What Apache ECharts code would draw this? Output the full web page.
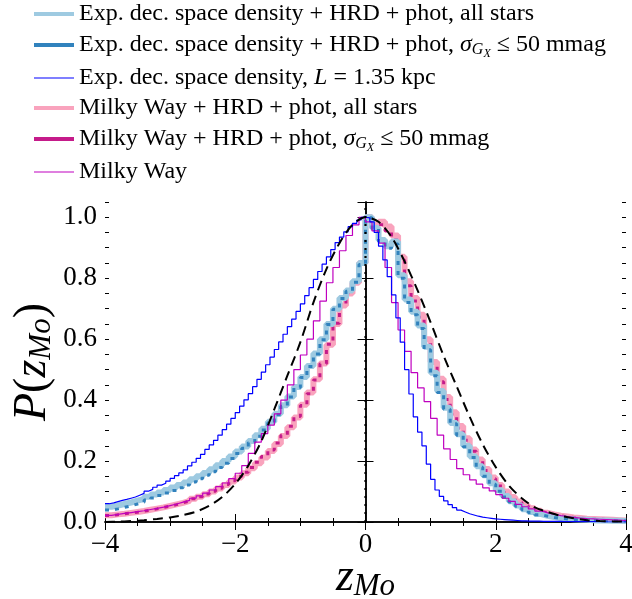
<!DOCTYPE html>
<html><head><meta charset="utf-8">
<script src="https://cdn.jsdelivr.net/npm/echarts@6/dist/echarts.min.js"></script>
<style>html,body{margin:0;padding:0;background:#fff}#c{width:632px;height:599px}</style>
</head><body><div id="c"></div>
<script>
// ---------- data ----------
const xTickValues = [-4, -2, 0, 2, 4];
const yTickValues = [0.0, 0.2, 0.4, 0.6, 0.8, 1.0];
const thickStart = -4, thickBin = 0.1;      // 80 bins
const thinBlueStart = -4, thinBlueBin = 8 / 120; // 120 bins
const mwThinStart = -4, mwThinBin = 0.1;     // 80 bins

const expAll = [0.050,0.054,0.059,0.064,0.070,0.076,0.083,0.090,0.097,0.105,
 0.113,0.121,0.130,0.140,0.150,0.161,0.173,0.186,0.200,0.215,
 0.231,0.248,0.266,0.285,0.306,0.329,0.355,0.383,0.412,0.443,
 0.476,0.512,0.553,0.600,0.650,0.700,0.735,0.760,0.790,0.850,
 1.000,0.965,0.925,0.905,0.920,0.810,0.730,0.690,0.645,0.575,
 0.490,0.430,0.375,0.325,0.288,0.250,0.215,0.183,0.153,0.127,
 0.104,0.085,0.068,0.054,0.042,0.033,0.026,0.020,0.016,0.013,
 0.011,0.009,0.008,0.007,0.006,0.005,0.005,0.004,0.004,0.003];

const expSel = [0.039,0.043,0.048,0.053,0.059,0.065,0.072,0.079,0.087,0.095,
 0.103,0.112,0.121,0.131,0.142,0.153,0.165,0.179,0.193,0.208,
 0.225,0.242,0.261,0.281,0.302,0.326,0.352,0.380,0.410,0.441,
 0.474,0.510,0.551,0.598,0.648,0.698,0.733,0.757,0.787,0.845,
 0.998,0.962,0.920,0.898,0.912,0.800,0.720,0.680,0.635,0.565,
 0.480,0.425,0.370,0.322,0.285,0.247,0.212,0.180,0.150,0.124,
 0.101,0.082,0.066,0.052,0.040,0.031,0.024,0.019,0.015,0.012,
 0.010,0.008,0.007,0.006,0.005,0.005,0.004,0.004,0.003,0.003];

const expDens = [0.060,0.063,0.067,0.071,0.074,0.078,0.082,0.088,0.094,0.101,
 0.107,0.114,0.121,0.127,0.134,0.143,0.152,0.161,0.171,0.184,
 0.196,0.209,0.222,0.238,0.253,0.268,0.285,0.303,0.321,0.340,
 0.359,0.380,0.401,0.421,0.444,0.468,0.492,0.516,0.541,0.566,
 0.591,0.616,0.641,0.666,0.691,0.716,0.743,0.769,0.796,0.822,
 0.846,0.870,0.894,0.917,0.935,0.952,0.969,0.980,0.991,1.000,
 0.998,0.985,0.950,0.905,0.860,0.805,0.745,0.670,0.590,0.500,
 0.420,0.345,0.295,0.250,0.190,0.140,0.105,0.084,0.069,0.057,
 0.047,0.039,0.033,0.027,0.023,0.019,0.016,0.014,0.012,0.010,
 0.009,0.008,0.007,0.006,0.005,0.004,0.004,0.003,0.003,0.003,
 0.002,0.002,0.002,0.002,0.002,0.001,0.001,0.001,0.001,0.001,
 0.001,0.001,0.001,0.001,0.000,0.000,0.000,0.000,0.000,0.000];

const mwAll = [0.022,0.025,0.027,0.030,0.033,0.036,0.040,0.044,0.048,0.053,
 0.058,0.063,0.069,0.076,0.083,0.091,0.100,0.110,0.121,0.133,
 0.146,0.160,0.176,0.193,0.212,0.233,0.256,0.282,0.311,0.343,
 0.385,0.425,0.468,0.520,0.582,0.650,0.710,0.750,0.785,0.850,
 1.000,0.975,0.985,0.970,0.940,0.870,0.790,0.735,0.680,0.600,
 0.525,0.470,0.410,0.360,0.315,0.275,0.238,0.205,0.174,0.146,
 0.121,0.100,0.082,0.067,0.055,0.045,0.037,0.030,0.025,0.021,
 0.018,0.015,0.013,0.011,0.010,0.009,0.008,0.007,0.006,0.005];

const mwSel = [0.021,0.024,0.027,0.029,0.032,0.036,0.039,0.043,0.048,0.052,
 0.057,0.063,0.069,0.076,0.083,0.092,0.101,0.111,0.123,0.135,
 0.149,0.163,0.179,0.196,0.215,0.236,0.259,0.285,0.314,0.346,
 0.382,0.421,0.466,0.519,0.583,0.652,0.712,0.752,0.787,0.852,
 0.995,0.965,0.975,0.955,0.925,0.860,0.775,0.725,0.672,0.592,
 0.515,0.460,0.402,0.352,0.308,0.268,0.232,0.200,0.169,0.142,
 0.118,0.097,0.080,0.065,0.053,0.043,0.035,0.029,0.024,0.020,
 0.017,0.015,0.013,0.011,0.010,0.009,0.008,0.007,0.006,0.005];

const mwOnly = [0.022,0.025,0.028,0.031,0.034,0.037,0.041,0.045,0.049,0.054,
 0.059,0.065,0.071,0.078,0.086,0.095,0.105,0.116,0.128,0.142,
 0.160,0.185,0.225,0.262,0.290,0.318,0.355,0.400,0.450,0.500,
 0.548,0.600,0.660,0.725,0.785,0.835,0.890,0.940,0.975,1.000,
 0.985,0.955,0.915,0.835,0.720,0.630,0.560,0.490,0.440,0.395,
 0.340,0.285,0.240,0.205,0.175,0.155,0.138,0.124,0.112,0.102,
 0.090,0.078,0.068,0.058,0.050,0.043,0.036,0.030,0.025,0.021,
 0.018,0.015,0.013,0.011,0.010,0.009,0.008,0.007,0.006,0.005];

const refX = [-4.0,-3.8,-3.6,-3.4,-3.2,-3.0,-2.8,-2.6,-2.4,-2.2,
 -2.0,-1.8,-1.6,-1.4,-1.2,-1.0,-0.8,-0.6,-0.4,-0.2,
 0.0,0.2,0.4,0.6,0.8,1.0,1.2,1.4,1.6,1.8,
 2.0,2.2,2.4,2.6,2.8,3.0,3.2,3.4,3.6,3.8,4.0];
const refY = [0.000,0.001,0.003,0.006,0.010,0.015,0.023,0.034,0.053,0.082,
 0.125,0.185,0.265,0.370,0.480,0.590,0.720,0.830,0.915,0.975,
 1.000,0.985,0.935,0.855,0.760,0.655,0.545,0.445,0.345,0.255,
 0.180,0.120,0.078,0.048,0.033,0.020,0.012,0.006,0.003,0.002,0.001];

const zeroLineX = 0;

const names = {
  expAll: 'Exp. dec. space density + HRD + phot, all stars',
  expSel: 'Exp. dec. space density + HRD + phot, sel',
  expDens: 'Exp. dec. space density, L',
  mwAll: 'Milky Way + HRD + phot, all stars',
  mwSel: 'Milky Way + HRD + phot, sel',
  mwOnly: 'Milky Way'
};
const legendText = {
  [names.expAll]: 'Exp. dec. space density + HRD + phot, all stars',
  [names.expSel]: 'Exp. dec. space density + HRD + phot, {i|σ}{s|G}{ss|X} ≤ 50 mmag',
  [names.expDens]: 'Exp. dec. space density, {i|L} = 1.35 kpc',
  [names.mwAll]: 'Milky Way + HRD + phot, all stars',
  [names.mwSel]: 'Milky Way + HRD + phot, {i|σ}{s|G}{ss|X} ≤ 50 mmag',
  [names.mwOnly]: 'Milky Way'
};

// ---------- helpers ----------
function hist(values, x0, w) {
  const d = values.map((v, i) => [x0 + i * w, v]);
  d.push([x0 + values.length * w, values[values.length - 1]]);
  return d;
}
const F = 'Liberation Serif';
const C = {
  expAll: '#9ecae1', expSel: '#3182bd', expDens: '#0000ff',
  mwAll: '#f9a3bd', mwSel: '#c51b8a', mwOnly: '#bf00bf'
};

const legendRows = [
  {key: 'expAll', y: 14, h: 4},
  {key: 'expSel', y: 44, h: 4},
  {key: 'expDens', y: 78, h: 1},
  {key: 'mwAll', y: 108, h: 4},
  {key: 'mwSel', y: 138, h: 4},
  {key: 'mwOnly', y: 172, h: 1}
];
const LH = 28;
const LF = 24;
const legends = legendRows.map(r => ({
  top: r.y - LH / 2, left: 34, padding: 0, itemGap: 0,
  itemWidth: 40, itemHeight: r.h, icon: 'rect', selectedMode: false,
  data: [{name: names[r.key], itemStyle: {color: C[r.key]}}],
  formatter: n => legendText[n],
  textStyle: {
    fontFamily: F, fontSize: LF, color: '#000', lineHeight: LH,
    rich: {
      i: {fontFamily: F, fontStyle: 'italic', fontSize: LF, lineHeight: LH},
      s: {fontFamily: F, fontStyle: 'italic', fontSize: 16, lineHeight: LH, padding: [10, 0, 0, 0]},
      ss: {fontFamily: F, fontStyle: 'italic', fontSize: 12, lineHeight: LH, padding: [18, 0, 0, 0]}
    }
  }
}));

const axisLine = {show: true, lineStyle: {color: '#000', width: 1.5}};
const labelFont = {fontFamily: F, fontSize: 27, color: '#000'};
const minus = v => String(v).replace('-', '\u2212');
const isMajorY = v => Math.abs(v * 5 - Math.round(v * 5)) < 1e-6;

const nameRich = {
  P: {fontFamily: F, fontStyle: 'italic', fontSize: 46, lineHeight: 52},
  n: {fontFamily: F, fontSize: 46, lineHeight: 52},
  z: {fontFamily: F, fontStyle: 'italic', fontSize: 46, lineHeight: 52},
  s: {fontFamily: F, fontStyle: 'italic', fontSize: 31, lineHeight: 52, padding: [18, 0, 0, 0]}
};

const xBase = {type: 'value', min: -4, max: 4, interval: 2, splitLine: {show: false}};
const yBase = {type: 'value', min: 0, max: 1.05, splitLine: {show: false}};

const option = {
  animation: false,
  backgroundColor: '#fff',
  grid: {left: 105, right: 6, top: 202, bottom: 77, containLabel: false, outerBoundsMode: 'none'},
  legend: legends,
  xAxis: [
    Object.assign({}, xBase, {
      position: 'bottom', axisLine,
      axisTick: {inside: true, length: 8, lineStyle: {color: '#000', width: 1}},
      minorTick: {show: true, splitNumber: 4, length: 4, lineStyle: {color: '#000', width: 1}},
      axisLabel: Object.assign({}, labelFont, {margin: 9, formatter: minus}),
      name: '{z|z}{s|Mo}', nameLocation: 'middle', nameGap: 30, nameMoveOverlap: false,
      nameTextStyle: {rich: nameRich}
    }),
    Object.assign({}, xBase, {
      position: 'top', axisLine,
      axisTick: {inside: true, length: 8, lineStyle: {color: '#000', width: 1}},
      minorTick: {show: true, splitNumber: 4, length: 4, lineStyle: {color: '#000', width: 1}},
      axisLabel: {show: false}
    })
  ],
  yAxis: [
    Object.assign({}, yBase, {
      interval: 0.2, position: 'left', axisLine,
      axisTick: {inside: true, length: 8, lineStyle: {color: '#000', width: 1}},
      axisLabel: Object.assign({}, labelFont, {margin: 8, formatter: v => isMajorY(v) ? v.toFixed(1) : ''}),
      name: '{P|P}{n|(}{z|z}{s|Mo}{n|)}', nameLocation: 'middle', nameRotate: 90, nameGap: 46, nameMoveOverlap: false,
      nameTextStyle: {rich: nameRich}
    }),
    Object.assign({}, yBase, {
      interval: 0.2, position: 'right', axisLine,
      axisTick: {inside: true, length: 8, lineStyle: {color: '#000', width: 1}},
      axisLabel: {show: false}
    }),
    Object.assign({}, yBase, {
      interval: 0.05, position: 'left', axisLine: {show: false},
      axisTick: {inside: true, length: 4, lineStyle: {color: '#000', width: 1}},
      axisLabel: {show: false}
    }),
    Object.assign({}, yBase, {
      interval: 0.05, position: 'right', axisLine: {show: false},
      axisTick: {inside: true, length: 4, lineStyle: {color: '#000', width: 1}},
      axisLabel: {show: false}
    })
  ],
  series: [
    {name: names.mwAll, type: 'line', step: 'end', symbol: 'none', data: hist(mwAll, thickStart, thickBin),
     lineStyle: {color: C.mwAll, width: 6}, itemStyle: {color: C.mwAll}, z: 2},
    {name: names.mwSel, type: 'line', step: 'end', symbol: 'none', data: hist(mwSel, thickStart, thickBin),
     lineStyle: {color: C.mwSel, width: 3, type: [4, 6]}, itemStyle: {color: C.mwSel}, z: 3},
    {name: names.expAll, type: 'line', step: 'end', symbol: 'none', data: hist(expAll, thickStart, thickBin),
     lineStyle: {color: C.expAll, width: 6}, itemStyle: {color: C.expAll}, z: 4},
    {name: names.expSel, type: 'line', step: 'end', symbol: 'none', data: hist(expSel, thickStart, thickBin),
     lineStyle: {color: C.expSel, width: 3, type: [4, 6]}, itemStyle: {color: C.expSel}, z: 5},
    {name: names.mwOnly, type: 'line', step: 'end', symbol: 'none', data: hist(mwOnly, mwThinStart, mwThinBin),
     lineStyle: {color: C.mwOnly, width: 1.2}, itemStyle: {color: C.mwOnly}, z: 6},
    {name: names.expDens, type: 'line', step: 'end', symbol: 'none', data: hist(expDens, thinBlueStart, thinBlueBin),
     lineStyle: {color: C.expDens, width: 1.2}, itemStyle: {color: C.expDens}, z: 7},
    {name: 'ref', type: 'line', smooth: 0.3, symbol: 'none', data: refX.map((x, i) => [x, refY[i]]),
     lineStyle: {color: '#000', width: 2, type: [10, 6]}, z: 8},
    {name: 'zero', type: 'line', symbol: 'none', data: [[zeroLineX, 0], [zeroLineX, 1.05]],
     lineStyle: {color: '#000', width: 2.2, type: [2, 6]}, z: 9}
  ]
};
const chart = echarts.init(document.getElementById('c'), null, {renderer: 'canvas'});
chart.setOption(option);
</script></body></html>
